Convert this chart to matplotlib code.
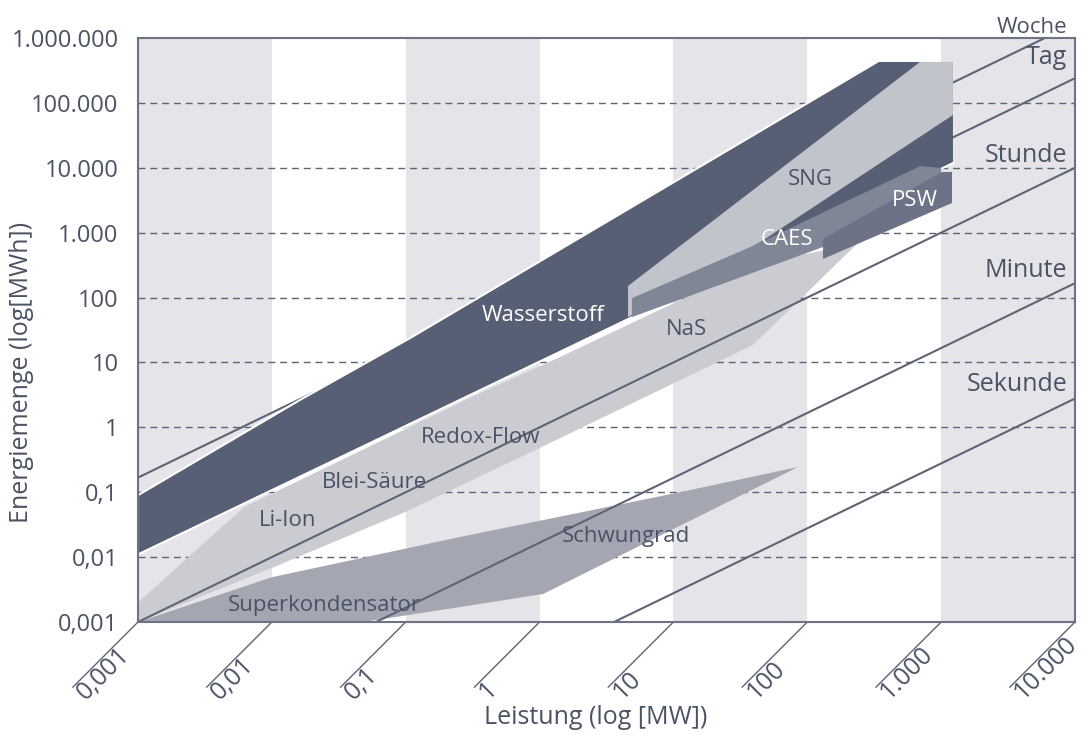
import matplotlib
matplotlib.use('Agg')
import matplotlib.pyplot as plt
from matplotlib.ticker import NullLocator

plt.rcParams['font.family'] = ['Open Sans', 'DejaVu Sans']

wasserstoff_p = [0.001, 0.001, 0.0162, 0.108, 332, 1225, 1225]
wasserstoff_e = [0.011, 0.09, 2.64, 23.8, 427000, 427000, 11800]

sng_p = [4.58, 695, 1225, 1225, 45.9, 4.58]
sng_e = [151, 427000, 427000, 65000, 743, 50]

caes_p = [4.9, 40.7, 695, 1000, 1000, 131, 4.9]
caes_e = [98, 645, 10600, 9900, 7470, 601, 50]

psw_p = [131, 1015, 1205, 1205, 131]
psw_e = [798, 8600, 8600, 2865, 393]

# Li-Ion, Blei-Säure, Redox-Flow, NaS
batterie_p = [0.001, 0.001, 0.0062, 0.36, 1.42, 12.6, 44.3, 239, 39.3, 1.0, 0.1, 0.01]
batterie_e = [0.001, 0.002, 0.059, 3.38, 12.1, 102, 329, 693, 18.6, 0.48, 0.05, 0.0068]

# Superkondensator + Schwungrad
schwung_p = [0.001, 0.01, 0.254, 11.2, 85.3, 1.06, 0.254, 0.048]
schwung_e = [0.001, 0.0049, 0.0204, 0.1, 0.245, 0.0027, 0.0017, 0.001]

# Entladedauer in Stunden
zeit_namen = ['Woche', 'Tag', 'Stunde', 'Minute', 'Sekunde']
zeit_h = [168, 24, 1, 1 / 60, 1 / 3600]

x_ticks = [0.001, 0.01, 0.1, 1, 10, 100, 1000, 10000]
x_labels = ['0,001', '0,01', '0,1', '1', '10', '100', '1.000', '10.000']
y_ticks = [0.001, 0.01, 0.1, 1, 10, 100, 1000, 10000, 100000, 1000000]
y_labels = ['0,001', '0,01', '0,1', '1', '10', '100', '1.000', '10.000', '100.000', '1.000.000']

namen = ['Wasserstoff', 'SNG', 'CAES', 'PSW', 'NaS', 'Redox-Flow', 'Blei-Säure',
         'Li-Ion', 'Superkondensator', 'Schwungrad']
namen_p = [1.06, 105, 70.5, 638, 12.6, 0.365, 0.058, 0.0132, 0.0245, 4.43]
namen_e = [53.8, 6490, 771, 3185, 32.7, 0.686, 0.1435, 0.0373, 0.00177, 0.0211]
namen_weiss = ['Wasserstoff', 'CAES', 'PSW']

txt = '#4a5366'
linie = '#5c6476'
grau_bg = '#e4e4e9'

fig = plt.figure(figsize=(10.88, 7.40), dpi=100)
ax = fig.add_axes([138 / 1088, 118 / 740, 937 / 1088, 584 / 740])
ax.set_xscale('log')
ax.set_yscale('log')
ax.set_xlim(1e-3, 1e4)
ax.set_ylim(1e-3, 1e6)

# graue Spalten
for i in range(0, 7, 2):
    ax.axvspan(x_ticks[i], x_ticks[i + 1], color=grau_bg, lw=0, zorder=0)

for e in y_ticks[1:-1]:
    ax.axhline(e, color=linie, lw=1, ls=(0, (5, 3.5)), zorder=1)

ax.fill(batterie_p, batterie_e, color='#cbccd1', lw=0, zorder=2)
ax.fill(schwung_p, schwung_e, color='#a4a6b1', lw=0, zorder=2)

for h in zeit_h:
    ax.plot([x_ticks[0], x_ticks[-1]], [x_ticks[0] * h, x_ticks[-1] * h],
            color=linie, lw=1.5, zorder=3)

ax.fill(wasserstoff_p, wasserstoff_e, color='#565f73', lw=0, zorder=4)
# weisser Rand oben und unten
ax.plot(wasserstoff_p[:5], wasserstoff_e[:5], color='white', lw=1.5, zorder=4)
ax.plot([wasserstoff_p[-1], wasserstoff_p[0]], [wasserstoff_e[-1], wasserstoff_e[0]],
        color='white', lw=1.5, zorder=4)
ax.fill(sng_p, sng_e, color='#c2c4cc', lw=0, zorder=5)
ax.fill(caes_p, caes_e, color='#7f8696', lw=0, zorder=6)
ax.fill(psw_p, psw_e, color='#6c7386', lw=0, zorder=7)

for n, p, e in zip(namen, namen_p, namen_e):
    farbe = 'white' if n in namen_weiss else txt
    ax.text(p, e, n, color=farbe, fontsize=16, ha='center', va='center', zorder=10)

# Beschriftung der Zeitlinien
zeit_y = [1.0086, 0.9555, 0.7877, 0.5908, 0.3955]
for n, y in zip(zeit_namen, zeit_y):
    ax.text(0.9915, y, n, transform=ax.transAxes, color=txt, fontsize=18 if n != 'Woche' else 16,
            ha='right', va='baseline', zorder=10)

ax.xaxis.set_minor_locator(NullLocator())
ax.yaxis.set_minor_locator(NullLocator())
ax.set_xticks(x_ticks)
ax.set_xticklabels([])
ax.set_yticks(y_ticks)
ax.set_yticklabels(y_labels, fontsize=17, color=txt)
ax.tick_params(axis='both', length=0)
ax.tick_params(axis='y', pad=14)

# schraege Ticks, Beschriftung beginnt am unteren Ende der Linie
for p, lab in zip(x_ticks, x_labels):
    ax.annotate('', xy=(p, 0), xycoords=ax.get_xaxis_transform(),
                xytext=(-47, -47), textcoords='offset points',
                arrowprops=dict(arrowstyle='-', color=linie, lw=1, shrinkA=0, shrinkB=0),
                annotation_clip=False)
    ax.annotate(lab, xy=(p, 0), xycoords=ax.get_xaxis_transform(),
                xytext=(-37.5, -56.5), textcoords='offset points', rotation=45,
                rotation_mode='anchor', ha='left', va='baseline', fontsize=18, color=txt,
                annotation_clip=False)

for s in ax.spines.values():
    s.set_color('#6b7384')
    s.set_linewidth(1.5)
    s.set_zorder(11)

fig.text(22 / 1088, 1 - 372 / 740, 'Energiemenge (log[MWh])', rotation=90,
         ha='center', va='center', fontsize=18, color=txt)
fig.text(596 / 1088, 1 - 718 / 740, 'Leistung (log [MW])', ha='center', va='center',
         fontsize=18, color=txt)

fig.savefig('out.png', dpi=100)
